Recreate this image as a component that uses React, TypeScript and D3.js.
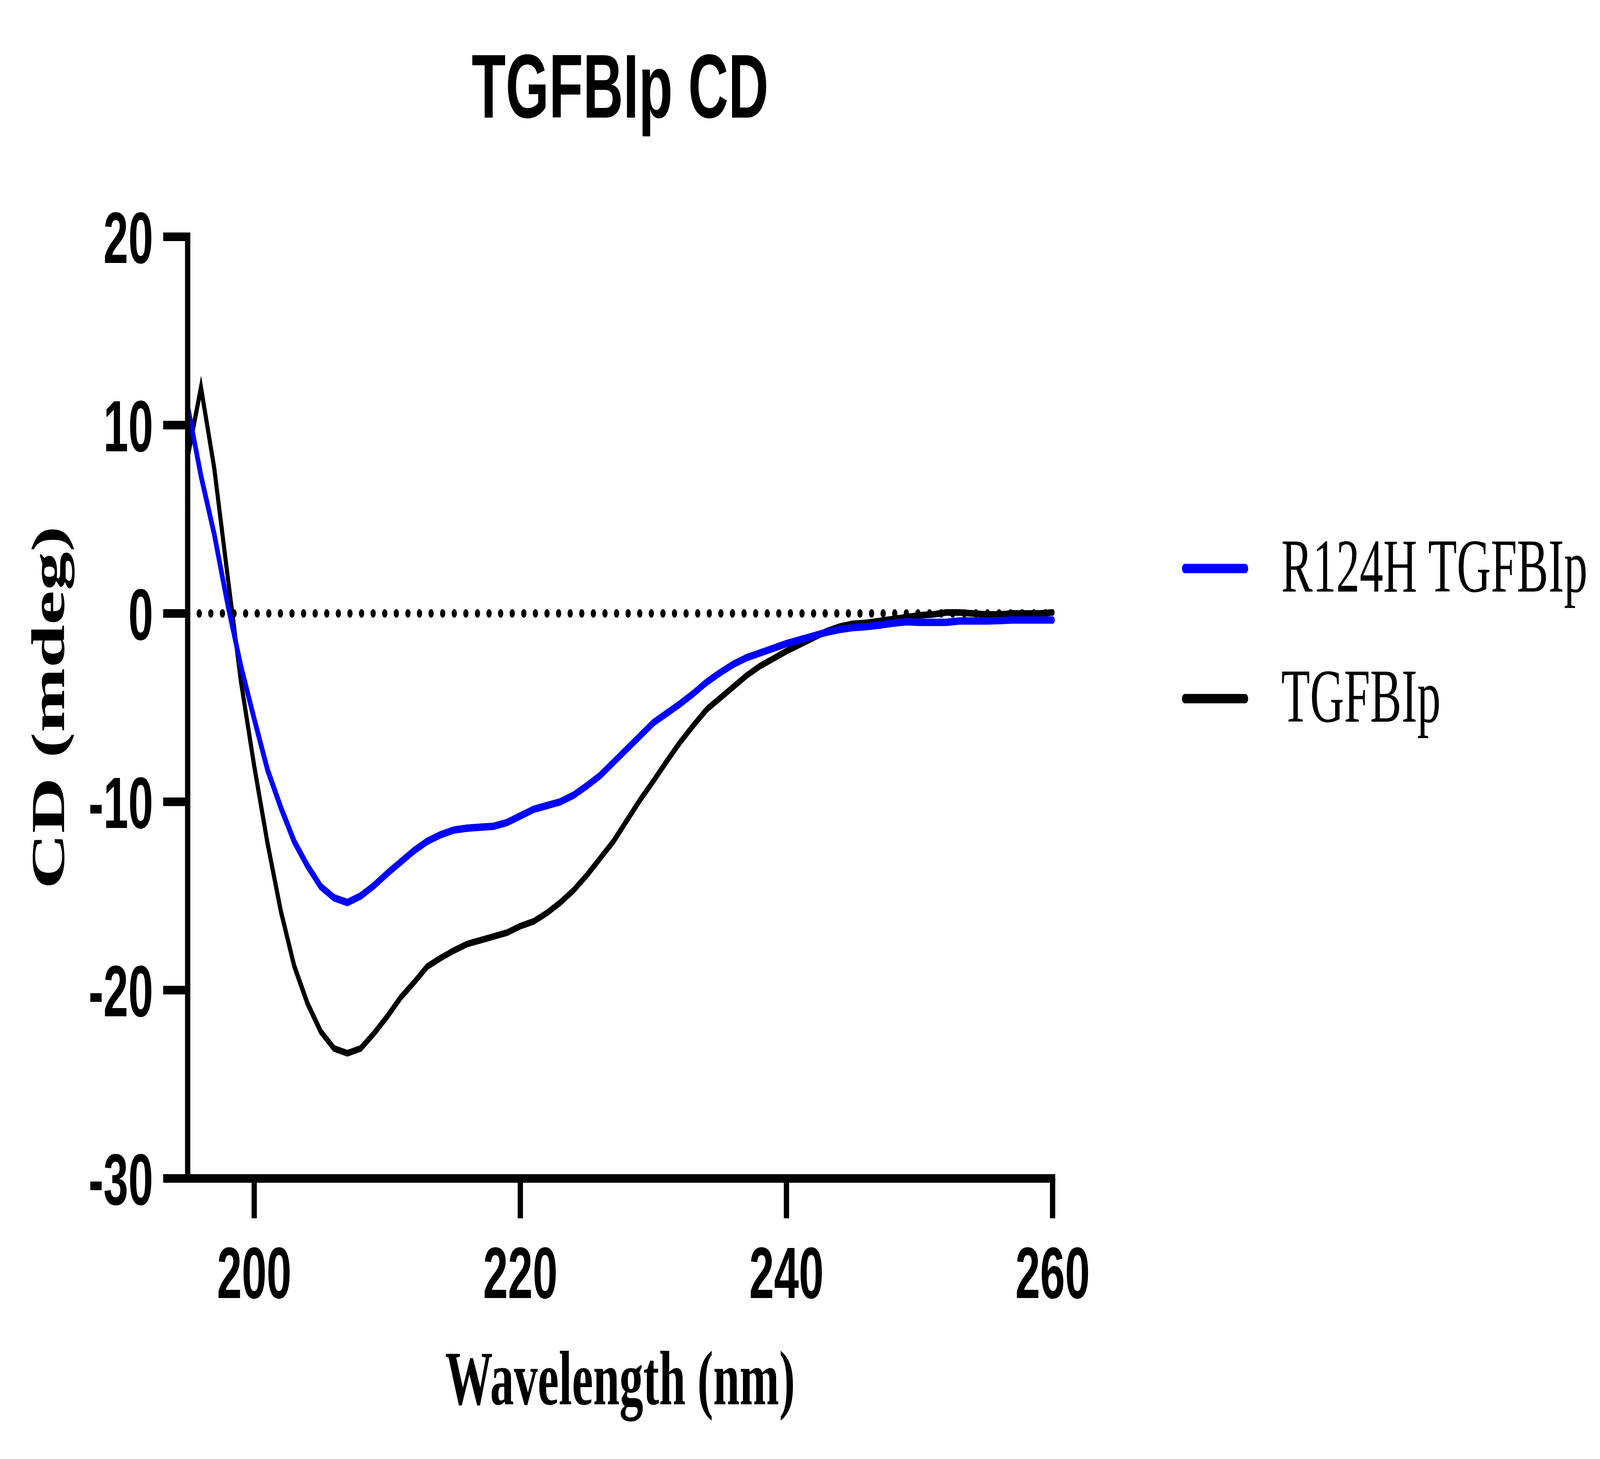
import React from 'react';
import * as d3 from 'd3';

// wavelength grid (nm), one reading per nm
const wavelengths = d3.range(195, 261);

// R124H TGFBIp CD signal (mdeg)
const r124hValues = [
  11.0, 7.3, 4.2, 0.5, -2.8, -5.6, -8.3, -10.3, -12.1, -13.4,
  -14.5, -15.1, -15.35, -15.0, -14.45, -13.8, -13.2, -12.6, -12.1, -11.75,
  -11.5, -11.4, -11.35, -11.3, -11.1, -10.75, -10.4, -10.2, -10.0, -9.65,
  -9.15, -8.6, -7.9, -7.2, -6.5, -5.8, -5.3, -4.8, -4.25, -3.65,
  -3.15, -2.7, -2.35, -2.1, -1.85, -1.6, -1.4, -1.2, -1.0, -0.85,
  -0.75, -0.7, -0.62, -0.52, -0.44, -0.47, -0.47, -0.47, -0.4, -0.4,
  -0.4, -0.38, -0.35, -0.35, -0.35, -0.35,
];

// wild-type TGFBIp CD signal (mdeg)
const tgfbipValues = [
  8.3, 12.0, 7.7, 2.0, -3.6, -8.1, -12.2, -15.8, -18.7, -20.7,
  -22.2, -23.1, -23.35, -23.1, -22.3, -21.4, -20.4, -19.6, -18.75, -18.3,
  -17.9, -17.55, -17.35, -17.15, -16.95, -16.6, -16.35, -15.9, -15.35, -14.7,
  -13.9, -13.0, -12.1, -11.0, -9.9, -8.9, -7.85, -6.85, -5.95, -5.1,
  -4.5, -3.9, -3.3, -2.8, -2.4, -2.0, -1.65, -1.3, -0.95, -0.7,
  -0.55, -0.5, -0.4, -0.3, -0.2, -0.1, -0.05, 0.05, 0.05, 0.0,
  -0.05, -0.05, 0.0, 0.0, 0.0, 0.05,
];

const xTicks = [200, 220, 240, 260];
const yTicks = [20, 10, 0, -10, -20, -30];

const series = [
  { name: 'R124H TGFBIp', color: '#0000ff', values: r124hValues, width: 19 },
  { name: 'TGFBIp', color: '#000000', values: tgfbipValues, width: 17 },
];

const W = 6667;
const H = 3734;
const plot = { left: 782, right: 4386, top: 606, bottom: 3016 };

export default function App() {
  const x = d3.scaleLinear().domain([195, 260]).range([plot.left, plot.right]);
  const y = d3.scaleLinear().domain([-30, 20]).range([plot.bottom, plot.top]);

  const line = d3
    .line<number>()
    .x((_, i) => x(wavelengths[i]))
    .y((d) => y(d));

  const sans = '"Liberation Sans", Arial, sans-serif';
  const serif = '"Liberation Serif", "Times New Roman", serif';
  const cx = (plot.left + plot.right) / 2;
  const cy = (plot.top + plot.bottom) / 2;

  // the svg fills the window; viewBox keeps the 6667x3734 drawing units
  return (
    <svg
      viewBox={`0 0 ${W} ${H}`}
      preserveAspectRatio="none"
      style={{
        position: 'fixed',
        left: 0,
        top: 0,
        width: '100vw',
        height: '100vh',
        display: 'block',
        background: '#fff',
      }}
    >
      <rect width={W} height={H} fill="#fff" />

      {/* title */}
      <text x={cx} y={301} textAnchor="middle" fontFamily={sans} fontWeight="bold" fontSize={232}>
        TGFBIp CD
      </text>

      {/* zero reference */}
      <line
        x1={x(195)}
        x2={x(260)}
        y1={y(0)}
        y2={y(0)}
        stroke="#000"
        strokeWidth={22}
        strokeLinecap="round"
        strokeDasharray="0 48.3"
      />

      {/* data, black first so blue sits on top */}
      {[series[1], series[0]].map((s) => (
        <path
          key={s.name}
          d={line(s.values) || ''}
          fill="none"
          stroke={s.color}
          strokeWidth={s.width}
          strokeLinecap="round"
        />
      ))}

      {/* axes */}
      <g stroke="#000" strokeWidth={22} fill="none">
        <line x1={plot.left} x2={plot.left} y1={plot.top - 11} y2={plot.bottom + 11} />
        <line x1={plot.left - 11} x2={plot.right + 11} y1={plot.bottom} y2={plot.bottom} />
        {yTicks.map((t) => (
          <line key={'yt' + t} x1={plot.left - 102} x2={plot.left} y1={y(t)} y2={y(t)} />
        ))}
        {xTicks.map((t) => (
          <line key={'xt' + t} x1={x(t)} x2={x(t)} y1={plot.bottom} y2={plot.bottom + 102} />
        ))}
      </g>

      <g fontFamily={sans} fontWeight="bold" fontSize={186} fill="#000">
        {yTicks.map((t) => (
          <text key={'yl' + t} x={plot.left - 144} y={y(t)} dy="0.36em" textAnchor="end">
            {t}
          </text>
        ))}
        {xTicks.map((t) => (
          <text key={'xl' + t} x={x(t)} y={3322} textAnchor="middle">
            {t}
          </text>
        ))}
      </g>

      {/* axis titles */}
      <text x={cx} y={3594} textAnchor="middle" fontFamily={serif} fontWeight="bold" fontSize={198}>
        Wavelength (nm)
      </text>
      <text
        transform={`translate(267,${cy}) rotate(-90)`}
        textAnchor="middle"
        fontFamily={serif}
        fontWeight="bold"
        fontSize={198}
      >
        CD (mdeg)
      </text>

      {/* legend */}
      {series.map((s, i) => {
        const ly = 1455 + i * 333;
        return (
          <g key={'lg' + s.name}>
            <line x1={4937} x2={5189} y1={ly} y2={ly} stroke={s.color} strokeWidth={24} strokeLinecap="round" />
            <text x={5339} y={ly + 59} fontFamily={serif} fontSize={196}>
              {s.name}
            </text>
          </g>
        );
      })}
    </svg>
  );
}
